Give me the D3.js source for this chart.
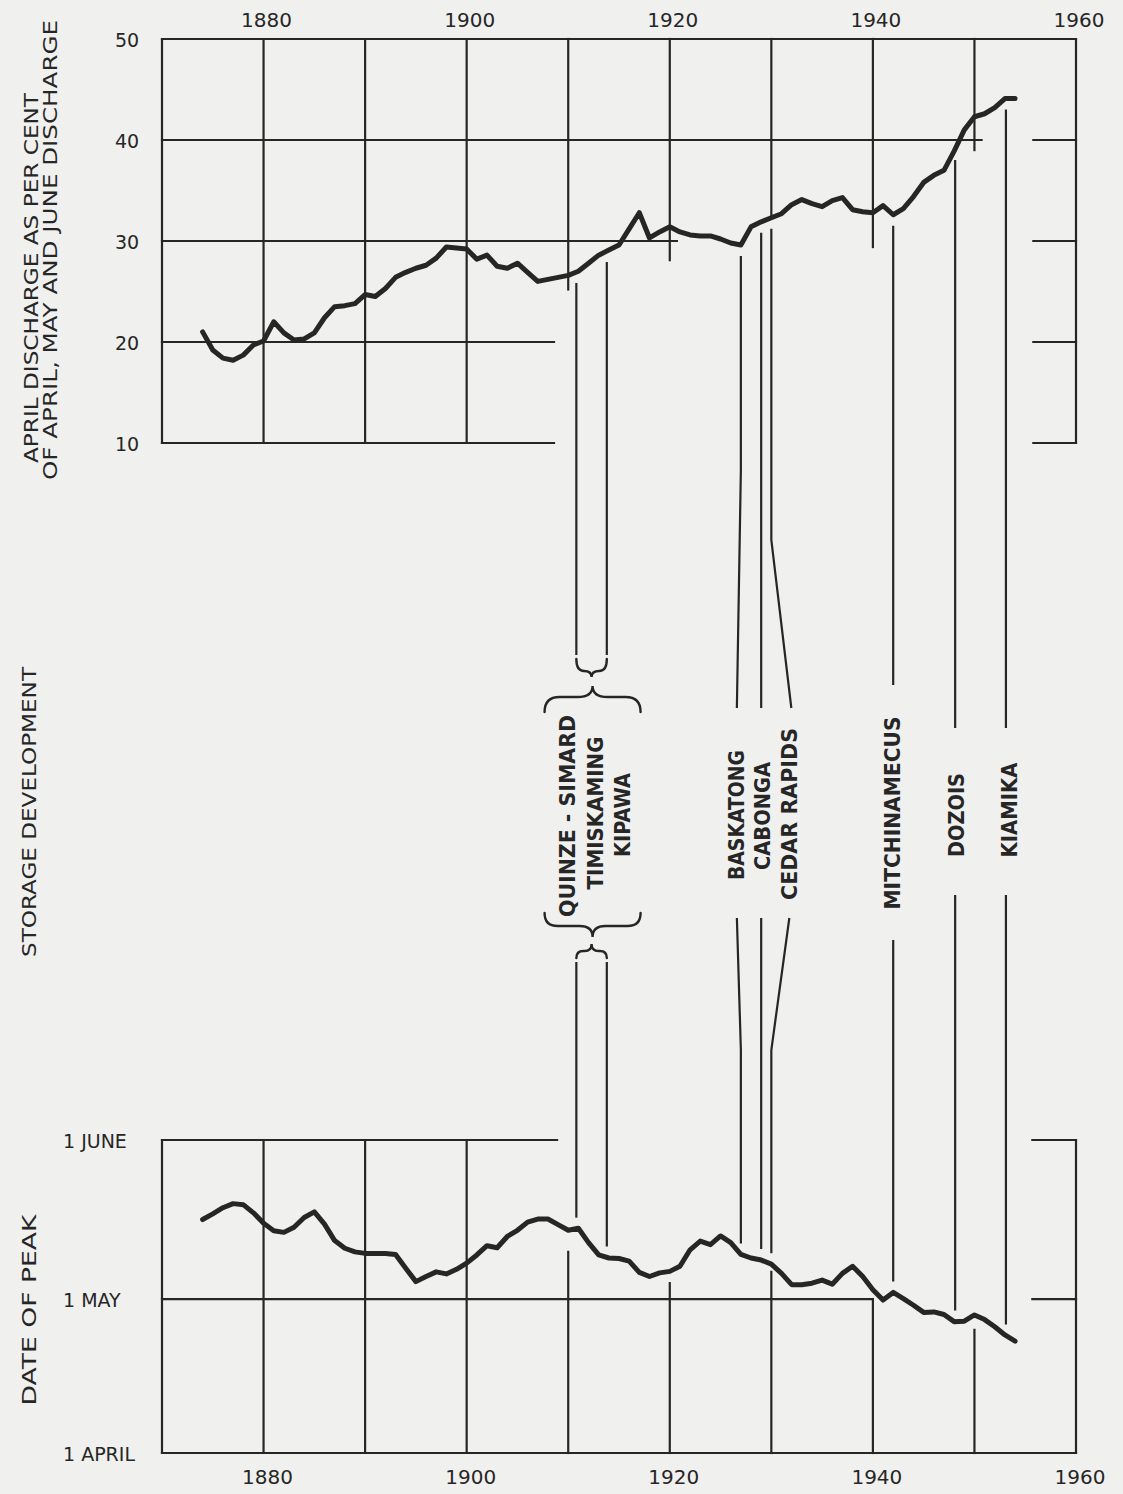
<!DOCTYPE html>
<html>
<head>
<meta charset="utf-8">
<script src="https://cdn.jsdelivr.net/npm/d3@7"></script>
<style>
  html, body { margin: 0; padding: 0; background: #f0f0ee; }
  svg { display: block; }
</style>
</head>
<body>
<svg id="chart" width="1123" height="1494"></svg>
<script>
// ---- data -------------------------------------------------------------
// Years of the smoothed series
const years = d3.range(1874, 1955);

// April discharge as per cent of April, May and June discharge
const aprilShare = [
  21.0, 19.2, 18.4, 18.2, 18.7, 19.7, 20.1, 22.0, 20.9, 20.2,   // 1874-1883
  20.3, 20.9, 22.4, 23.5, 23.6, 23.8, 24.7, 24.5, 25.3, 26.4,   // 1884-1893
  26.9, 27.3, 27.6, 28.3, 29.4, 29.3, 29.2, 28.2, 28.6, 27.5,   // 1894-1903
  27.3, 27.8, 26.9, 26.0, 26.2, 26.4, 26.6, 27.0, 27.8, 28.6,   // 1904-1913
  29.1, 29.6, 31.2, 32.8, 30.3, 30.9, 31.4, 30.9, 30.6, 30.5,   // 1914-1923
  30.5, 30.2, 29.8, 29.6, 31.4, 31.9, 32.3, 32.7, 33.6, 34.1,   // 1924-1933
  33.7, 33.4, 34.0, 34.3, 33.1, 32.9, 32.8, 33.5, 32.6, 33.2,   // 1934-1943
  34.4, 35.8, 36.5, 37.0, 38.9, 41.0, 42.3, 42.6, 43.2, 44.1,   // 1944-1953
  44.1                                                          // 1954
];

// Date of spring peak, in days after 1 April
const peakDay = [
  45.5, 46.6, 47.8, 48.6, 48.4, 46.8, 44.8, 43.3, 43.0, 44.0,   // 1874-1883
  45.9, 47.0, 44.6, 41.4, 39.9, 39.2, 38.9, 38.9, 38.9, 38.7,   // 1884-1893
  36.0, 33.4, 34.4, 35.3, 34.9, 35.8, 37.0, 38.6, 40.4, 40.0,   // 1894-1903
  42.2, 43.4, 45.0, 45.6, 45.6, 44.5, 43.4, 43.8, 41.0, 38.6,   // 1904-1913
  38.0, 37.9, 37.4, 35.2, 34.4, 35.1, 35.4, 36.4, 39.6, 41.3,   // 1914-1923
  40.6, 42.3, 41.0, 38.7, 38.0, 37.6, 36.8, 35.0, 32.8, 32.8,   // 1924-1933
  33.1, 33.7, 32.9, 35.0, 36.4, 34.4, 31.8, 29.8, 31.3, 30.1,   // 1934-1943
  28.8, 27.4, 27.5, 27.0, 25.6, 25.7, 26.9, 26.0, 24.6, 23.0,   // 1944-1953
  21.8                                                          // 1954
];

// Axis ticks
const yearTicks = [1880, 1900, 1920, 1940, 1960];
const shareTicks = [10, 20, 30, 40, 50];
const dateTicks = [0, 30, 61];                       // days after 1 April
const dateTickLabels = ["1 APRIL", "1 MAY", "1 JUNE"];

// Storage reservoirs: year each came into service
const storageYears = [1910.8, 1913.8, 1927.0, 1929.0, 1930.0, 1942.0, 1948.1, 1953.1];
const storageNames = ["QUINZE - SIMARD", "TIMISKAMING", "KIPAWA", "BASKATONG", "CABONGA",
                      "CEDAR RAPIDS", "MITCHINAMECUS", "DOZOIS", "KIAMIKA"];

// ---- scales -----------------------------------------------------------
const svg = d3.select("#chart");
const INK = "#262626";

const x = d3.scaleLinear().domain([1870, 1960]).range([162, 1076]);
const yShare = d3.scaleLinear().domain([10, 50]).range([443, 39]);
const yDate = d3.scaleLinear().domain([0, 61]).range([1453, 1140]);

const FONT = "'DejaVu Sans', 'Liberation Sans', sans-serif";

// value of a series at a fractional year (linear between annual points)
function valueAt(series, yr) {
  const i = Math.max(0, Math.min(years.length - 2, Math.floor(yr - years[0])));
  const t = yr - years[i];
  return series[i] + (series[i + 1] - series[i]) * t;
}

// ---- grids ------------------------------------------------------------
// Spans of the ruled lines (data units); the drafting leaves the middle open
const shareRules = [
  { v: 50, spans: [[1870, 1960]] },
  { v: 40, spans: [[1870, 1950.7], [1955.8, 1960]] },
  { v: 30, spans: [[1870, 1920.7], [1955.8, 1960]] },
  { v: 20, spans: [[1870, 1908.6], [1955.8, 1960]] },
  { v: 10, spans: [[1870, 1908.6], [1955.8, 1960]] }
];
const shareVerticals = [
  { yr: 1870, from: 10, to: 50 }, { yr: 1880, from: 10, to: 50 },
  { yr: 1890, from: 10, to: 50 }, { yr: 1900, from: 10, to: 50 },
  { yr: 1910, from: 25.2, to: 50 }, { yr: 1920, from: 28.1, to: 50 },
  { yr: 1930, from: 32.4, to: 50 }, { yr: 1940, from: 29.4, to: 50 },
  { yr: 1950, from: 39.0, to: 50 }, { yr: 1960, from: 10, to: 50 }
];
const dateRules = [
  { v: 61, spans: [[1870, 1908.9], [1955.7, 1960]] },
  { v: 30, spans: [[1870, 1940], [1955.7, 1960]] },
  { v: 0, spans: [[1870, 1960]] }
];
const dateVerticals = [
  { yr: 1870, from: 0, to: 61 }, { yr: 1880, from: 0, to: 61 },
  { yr: 1890, from: 0, to: 61 }, { yr: 1900, from: 0, to: 61 },
  { yr: 1910, from: 0, to: 39.2 }, { yr: 1920, from: 0, to: 33.1 },
  { yr: 1930, from: 0, to: 35.3 }, { yr: 1940, from: 0, to: 30 },
  { yr: 1950, from: 0, to: 24 }, { yr: 1960, from: 0, to: 61 }
];

function drawGrid(g, rules, verticals, yScale) {
  const segs = [];
  rules.forEach(r => r.spans.forEach(s => segs.push({ x1: x(s[0]), x2: x(s[1]), y1: yScale(r.v), y2: yScale(r.v) })));
  verticals.forEach(v => segs.push({ x1: x(v.yr), x2: x(v.yr), y1: yScale(v.from), y2: yScale(v.to) }));
  g.selectAll("line").data(segs).join("line")
    .attr("x1", d => d.x1).attr("x2", d => d.x2)
    .attr("y1", d => d.y1).attr("y2", d => d.y2)
    .attr("stroke", INK).attr("stroke-width", 2.2).attr("stroke-linecap", "square");
}
drawGrid(svg.append("g"), shareRules, shareVerticals, yShare);
drawGrid(svg.append("g"), dateRules, dateVerticals, yDate);

// ---- series -----------------------------------------------------------
const shareLine = d3.line().x((d, i) => x(years[i])).y(d => yShare(d)).curve(d3.curveLinear);
const dateLine = d3.line().x((d, i) => x(years[i])).y(d => yDate(d)).curve(d3.curveLinear);

svg.append("path").datum(aprilShare).attr("d", shareLine)
  .attr("fill", "none").attr("stroke", INK).attr("stroke-width", 5)
  .attr("stroke-linejoin", "round").attr("stroke-linecap", "round");
svg.append("path").datum(peakDay).attr("d", dateLine)
  .attr("fill", "none").attr("stroke", INK).attr("stroke-width", 5)
  .attr("stroke-linejoin", "round").attr("stroke-linecap", "round");

// ---- storage development leaders --------------------------------------
const GAP = 11;
// per-line layout: end of upper leader, start of lower leader, and bends (px)
const leaderLayout = [
  { topEnd: 655, botStart: 962 },
  { topEnd: 655, botStart: 962 },
  { topEnd: 708, botStart: 918, bendTop: 470, shift: -4, bendBot: 1050 },
  { topEnd: 708, botStart: 918 },
  { topEnd: 708, botStart: 918, bendTop: 540, shift: 20, bendBot: 1050, shiftBot: 18 },
  { topEnd: 685, botStart: 940 },
  { topEnd: 728, botStart: 895 },
  { topEnd: 728, botStart: 895 }
];

const leaders = [];
storageYears.forEach((yr, i) => {
  const L = leaderLayout[i];
  const lx = x(yr);
  const yA = yShare(valueAt(aprilShare, yr)) + GAP;
  const yB = yDate(valueAt(peakDay, yr)) - GAP;
  if (L.bendTop) {
    leaders.push([[lx, yA], [lx, L.bendTop], [lx + L.shift, L.topEnd]]);
    const sb = L.shiftBot !== undefined ? L.shiftBot : L.shift;
    leaders.push([[lx + sb, L.botStart], [lx, L.bendBot], [lx, yB]]);
  } else {
    leaders.push([[lx, yA], [lx, L.topEnd]]);
    leaders.push([[lx, L.botStart], [lx, yB]]);
  }
});
svg.append("g").selectAll("path").data(leaders).join("path")
  .attr("d", d3.line())
  .attr("fill", "none").attr("stroke", INK).attr("stroke-width", 2.2);

// curly braces grouping the first two leaders
function bracePath(x1, x2, yEnd, yMid, yTip) {
  const xm = (x1 + x2) / 2;
  const r = Math.min(Math.abs(yMid - yEnd), (x2 - x1) / 4);
  return `M${x1},${yEnd} Q${x1},${yMid} ${x1 + r},${yMid} L${xm - r},${yMid} ` +
         `Q${xm},${yMid} ${xm},${yTip} Q${xm},${yMid} ${xm + r},${yMid} ` +
         `L${x2 - r},${yMid} Q${x2},${yMid} ${x2},${yEnd}`;
}
const bx1 = x(storageYears[0]), bx2 = x(storageYears[1]);
const bxm = (bx1 + bx2) / 2;
const braces = [
  bracePath(bx1, bx2, 659, 671, 677),
  bracePath(bxm - 47, bxm + 49, 712, 697, 686),
  bracePath(bxm - 47, bxm + 49, 913, 926, 937),
  bracePath(bx1, bx2, 958, 951, 944)
];
svg.append("g").selectAll("path").data(braces).join("path")
  .attr("d", d => d).attr("fill", "none").attr("stroke", INK)
  .attr("stroke-width", 2.4).attr("stroke-linecap", "round");

// reservoir names, written upward between the leaders
const nameLayout = [
  { cx: bxm - 24, cy: 816, len: 202 },
  { cx: bxm + 4, cy: 813, len: 153 },
  { cx: bxm + 31, cy: 815, len: 84 },
  { cx: x(storageYears[2]) - 4, cy: 815, len: 130 },
  { cx: x(storageYears[3]) + 2, cy: 816, len: 108 },
  { cx: x(storageYears[4]) + 19, cy: 814, len: 172 },
  { cx: x(storageYears[5]), cy: 813, len: 193 },
  { cx: x(storageYears[6]) + 2, cy: 815, len: 84 },
  { cx: x(storageYears[7]) + 4, cy: 810, len: 95 }
];
svg.append("g").selectAll("text").data(storageNames).join("text")
  .attr("transform", (d, i) => `translate(${nameLayout[i].cx},${nameLayout[i].cy}) rotate(-90)`)
  .attr("text-anchor", "middle").attr("dominant-baseline", "central")
  .attr("textLength", (d, i) => nameLayout[i].len).attr("lengthAdjust", "spacingAndGlyphs")
  .attr("font-family", FONT).attr("font-weight", "bold").attr("font-size", 21)
  .attr("fill", INK).text(d => d);

// ---- axes labels --------------------------------------------------------
const tickStyle = sel => sel.attr("font-family", FONT).attr("fill", "#262626");

svg.append("g").selectAll("text").data(yearTicks).join("text")
  .call(tickStyle).attr("font-size", 20)
  .attr("x", d => x(d) + 3).attr("y", 20)
  .attr("text-anchor", "middle").attr("dominant-baseline", "central").text(d => d);

svg.append("g").selectAll("text").data(yearTicks).join("text")
  .call(tickStyle).attr("font-size", 20)
  .attr("x", d => x(d) + 4).attr("y", 1477)
  .attr("text-anchor", "middle").attr("dominant-baseline", "central").text(d => d);

svg.append("g").selectAll("text").data(shareTicks).join("text")
  .call(tickStyle).attr("font-size", 19)
  .attr("x", 127).attr("y", d => yShare(d) + 1)
  .attr("text-anchor", "middle").attr("dominant-baseline", "central").text(d => d);

svg.append("g").selectAll("text").data(dateTicks).join("text")
  .call(tickStyle).attr("font-size", 19)
  .attr("x", 63).attr("y", d => yDate(d) + 1)
  .attr("text-anchor", "start").attr("dominant-baseline", "central")
  .text((d, i) => dateTickLabels[i]);

// axis titles
const titles = [
  { t: "APRIL DISCHARGE AS PER CENT", cx: 31, cy: 278, len: 370 },
  { t: "OF APRIL, MAY AND JUNE DISCHARGE", cx: 50, cy: 250, len: 460 },
  { t: "STORAGE DEVELOPMENT", cx: 29, cy: 812, len: 290 },
  { t: "DATE OF PEAK", cx: 29, cy: 1310, len: 191 }
];
svg.append("g").selectAll("text").data(titles).join("text")
  .attr("transform", d => `translate(${d.cx},${d.cy}) rotate(-90)`)
  .attr("text-anchor", "middle").attr("dominant-baseline", "central")
  .attr("textLength", d => d.len).attr("lengthAdjust", "spacingAndGlyphs")
  .attr("font-family", FONT).attr("font-size", 20).attr("fill", "#262626")
  .text(d => d.t);
</script>
</body>
</html>
